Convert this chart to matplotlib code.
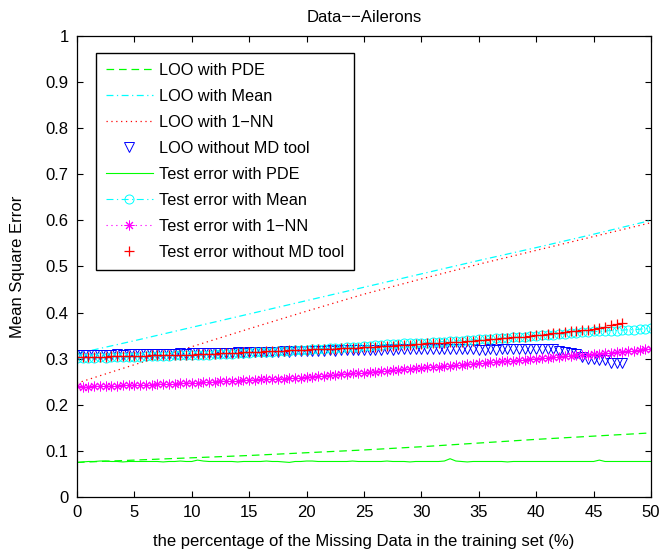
import numpy as np
import matplotlib
matplotlib.use("Agg")
import matplotlib.pyplot as plt

plt.rcParams['font.family'] = ['Liberation Sans', 'DejaVu Sans']
plt.rcParams['lines.scale_dashes'] = False

# x positions (percentage of missing data)
loo_pct = [0, 5, 10, 15, 20, 25, 30, 35, 40, 45, 50]
test_pct = np.arange(0, 50.5, 0.5)          # 0 .. 50
short_pct = np.arange(0, 48.0, 0.5)         # 0 .. 47.5

# LOO curves (lines only)
loo_pde = [0.075, 0.080, 0.085, 0.090, 0.096, 0.102, 0.109, 0.117, 0.125, 0.132, 0.139]
loo_mean = [0.311, 0.339, 0.368, 0.397, 0.426, 0.455, 0.484, 0.513, 0.541, 0.570, 0.600]
loo_1nn = [0.247, 0.287, 0.326, 0.365, 0.403, 0.440, 0.473, 0.505, 0.535, 0.565, 0.595]

loo_nomd = [
    0.309, 0.309, 0.309, 0.308, 0.309, 0.309, 0.309, 0.310, 0.309, 0.310, 0.310,
    0.310, 0.310, 0.311, 0.310, 0.311, 0.311, 0.311, 0.312, 0.311, 0.312,
    0.312, 0.312, 0.313, 0.312, 0.313, 0.313, 0.313, 0.314, 0.313, 0.314,
    0.314, 0.314, 0.315, 0.315, 0.315, 0.316, 0.315, 0.316, 0.316, 0.316,
    0.317, 0.317, 0.317, 0.318, 0.317, 0.318, 0.318, 0.318, 0.319, 0.318,
    0.319, 0.319, 0.319, 0.320, 0.319, 0.320, 0.320, 0.320, 0.321, 0.320,
    0.321, 0.321, 0.320, 0.321, 0.321, 0.320, 0.321, 0.320, 0.320, 0.319,
    0.319, 0.320, 0.319, 0.320, 0.321, 0.322, 0.322, 0.322, 0.321, 0.322,
    0.321, 0.321, 0.320, 0.317, 0.314, 0.312, 0.311, 0.303, 0.300, 0.299,
    0.298, 0.298, 0.291, 0.290, 0.290,
]

# test errors
test_pde = [
    0.075, 0.076, 0.077, 0.077, 0.078, 0.078, 0.077, 0.077, 0.076, 0.077, 0.077,
    0.077, 0.077, 0.077, 0.077, 0.076, 0.077, 0.077, 0.078, 0.077, 0.077,
    0.080, 0.078, 0.077, 0.077, 0.077, 0.077, 0.077, 0.076, 0.077, 0.077,
    0.077, 0.077, 0.078, 0.077, 0.077, 0.076, 0.075, 0.077, 0.077, 0.078,
    0.078, 0.077, 0.077, 0.077, 0.077, 0.077, 0.077, 0.078, 0.077, 0.077,
    0.077, 0.077, 0.077, 0.078, 0.077, 0.077, 0.077, 0.076, 0.077, 0.077,
    0.077, 0.077, 0.077, 0.078, 0.083, 0.078, 0.077, 0.076, 0.077, 0.077,
    0.077, 0.077, 0.077, 0.077, 0.076, 0.077, 0.077, 0.077, 0.077, 0.077,
    0.077, 0.077, 0.077, 0.077, 0.077, 0.077, 0.077, 0.077, 0.077, 0.077,
    0.080, 0.077, 0.077, 0.077, 0.077, 0.077, 0.077, 0.077, 0.077, 0.077,
]

test_mean = [
    0.302, 0.302, 0.301, 0.302, 0.303, 0.302, 0.303, 0.303, 0.304, 0.303, 0.304,
    0.304, 0.305, 0.305, 0.306, 0.306, 0.306, 0.307, 0.307, 0.307, 0.308,
    0.308, 0.309, 0.309, 0.310, 0.310, 0.311, 0.311, 0.312, 0.312, 0.313,
    0.314, 0.314, 0.315, 0.315, 0.316, 0.317, 0.317, 0.318, 0.319, 0.319,
    0.321, 0.322, 0.322, 0.323, 0.324, 0.324, 0.325, 0.326, 0.326, 0.327,
    0.328, 0.329, 0.330, 0.331, 0.331, 0.332, 0.333, 0.333, 0.334, 0.335,
    0.335, 0.336, 0.337, 0.337, 0.338, 0.339, 0.339, 0.340, 0.341, 0.342,
    0.342, 0.343, 0.344, 0.345, 0.345, 0.346, 0.347, 0.348, 0.349, 0.350,
    0.351, 0.351, 0.352, 0.353, 0.354, 0.355, 0.356, 0.357, 0.358, 0.359,
    0.359, 0.360, 0.361, 0.361, 0.362, 0.363, 0.363, 0.364, 0.365, 0.366,
]

test_1nn = [
    0.240, 0.239, 0.239, 0.240, 0.240, 0.241, 0.241, 0.241, 0.242, 0.242, 0.243,
    0.243, 0.244, 0.244, 0.245, 0.245, 0.246, 0.246, 0.247, 0.247, 0.248,
    0.248, 0.249, 0.249, 0.250, 0.251, 0.251, 0.252, 0.252, 0.253, 0.254,
    0.254, 0.255, 0.255, 0.256, 0.257, 0.257, 0.258, 0.259, 0.259, 0.260,
    0.261, 0.262, 0.263, 0.264, 0.265, 0.266, 0.267, 0.268, 0.269, 0.270,
    0.271, 0.272, 0.273, 0.274, 0.275, 0.276, 0.277, 0.278, 0.279, 0.280,
    0.281, 0.282, 0.283, 0.284, 0.285, 0.286, 0.287, 0.288, 0.289, 0.290,
    0.291, 0.292, 0.293, 0.294, 0.295, 0.296, 0.297, 0.298, 0.299, 0.300,
    0.301, 0.302, 0.303, 0.304, 0.305, 0.306, 0.307, 0.308, 0.309, 0.310,
    0.311, 0.312, 0.313, 0.314, 0.315, 0.316, 0.317, 0.318, 0.320, 0.321,
]

test_nomd = [
    0.303, 0.303, 0.304, 0.303, 0.304, 0.304, 0.305, 0.305, 0.305, 0.306, 0.306,
    0.306, 0.306, 0.307, 0.307, 0.307, 0.308, 0.308, 0.308, 0.309, 0.309,
    0.310, 0.310, 0.311, 0.311, 0.312, 0.312, 0.313, 0.313, 0.314, 0.314,
    0.315, 0.315, 0.316, 0.316, 0.317, 0.317, 0.318, 0.318, 0.319, 0.319,
    0.320, 0.320, 0.321, 0.322, 0.322, 0.323, 0.323, 0.324, 0.324, 0.325,
    0.326, 0.326, 0.327, 0.328, 0.328, 0.329, 0.330, 0.330, 0.331, 0.332,
    0.333, 0.333, 0.334, 0.335, 0.336, 0.336, 0.337, 0.338, 0.339, 0.340,
    0.341, 0.342, 0.343, 0.344, 0.345, 0.346, 0.347, 0.348, 0.349, 0.351,
    0.352, 0.353, 0.355, 0.356, 0.357, 0.359, 0.360, 0.362, 0.363, 0.365,
    0.367, 0.369, 0.372, 0.375, 0.378,
]

green = (0, 1, 0)
cyan = (0, 1, 1)
red = (1, 0, 0)
magenta = (1, 0, 1)
asterisk = (8, 2, 0)

fig = plt.figure(figsize=(6.63, 5.53), dpi=100)
ax = fig.add_axes([0.1161, 0.1013, 0.8658, 0.8336])

ax.plot(loo_pct, loo_pde, color=green, lw=0.9, dashes=(5.5, 3.5), label='LOO with PDE')
ax.plot(loo_pct, loo_mean, color=cyan, lw=0.9, dashes=(5, 2.5, 0.9, 2.5),
        label='LOO with Mean')
ax.plot(loo_pct, loo_1nn, color=red, lw=0.9, dashes=(0.9, 2.6), label='LOO with 1\u2212NN')
ax.plot(short_pct, loo_nomd, 'v', color='b', ms=6.5, mfc='none', mew=0.7,
        label='LOO without MD tool')
ax.plot(test_pct, test_pde, '-', color=green, lw=0.8, label='Test error with PDE')
ax.plot(test_pct, test_mean, marker='o', color=cyan, lw=0.8, dashes=(5, 2.5, 0.9, 2.5),
        ms=6.5, mfc='none', mew=0.7, label='Test error with Mean')
ax.plot(test_pct, test_1nn, marker=asterisk, color=magenta, lw=0.8, dashes=(0.9, 2.6),
        ms=7, mew=0.7, label='Test error with 1\u2212NN')
ax.plot(short_pct, test_nomd, '+', color=red, ms=7, mew=0.9,
        label='Test error without MD tool')

ax.set_xlim(0, 50)
ax.set_ylim(0, 1)
ax.set_xticks(np.arange(0, 51, 5))
ax.set_yticks(np.arange(0, 1.01, 0.1))
ax.set_yticklabels(['0', '0.1', '0.2', '0.3', '0.4', '0.5', '0.6', '0.7', '0.8', '0.9', '1'])
ax.tick_params(direction='in', top=True, right=True, length=4.5, width=0.8,
               labelsize=12, pad=6)
for s in ax.spines.values():
    s.set_linewidth(0.9)

ax.set_title('Data\u2212\u2212Ailerons', fontsize=12, pad=10)
ax.set_xlabel('the percentage of the Missing Data in the training set (%)', fontsize=12,
              labelpad=10)
ax.set_ylabel('Mean Square Error', fontsize=12, labelpad=15)

leg = ax.legend(loc='upper left', bbox_to_anchor=(0.033, 0.963), fontsize=11.7,
                handlelength=2.9, handletextpad=0.37, labelspacing=0.68,
                borderpad=0.6, fancybox=False, framealpha=1, borderaxespad=0)
leg.get_frame().set_edgecolor('black')
leg.get_frame().set_linewidth(1.0)

fig.savefig('out.png', dpi=100)
